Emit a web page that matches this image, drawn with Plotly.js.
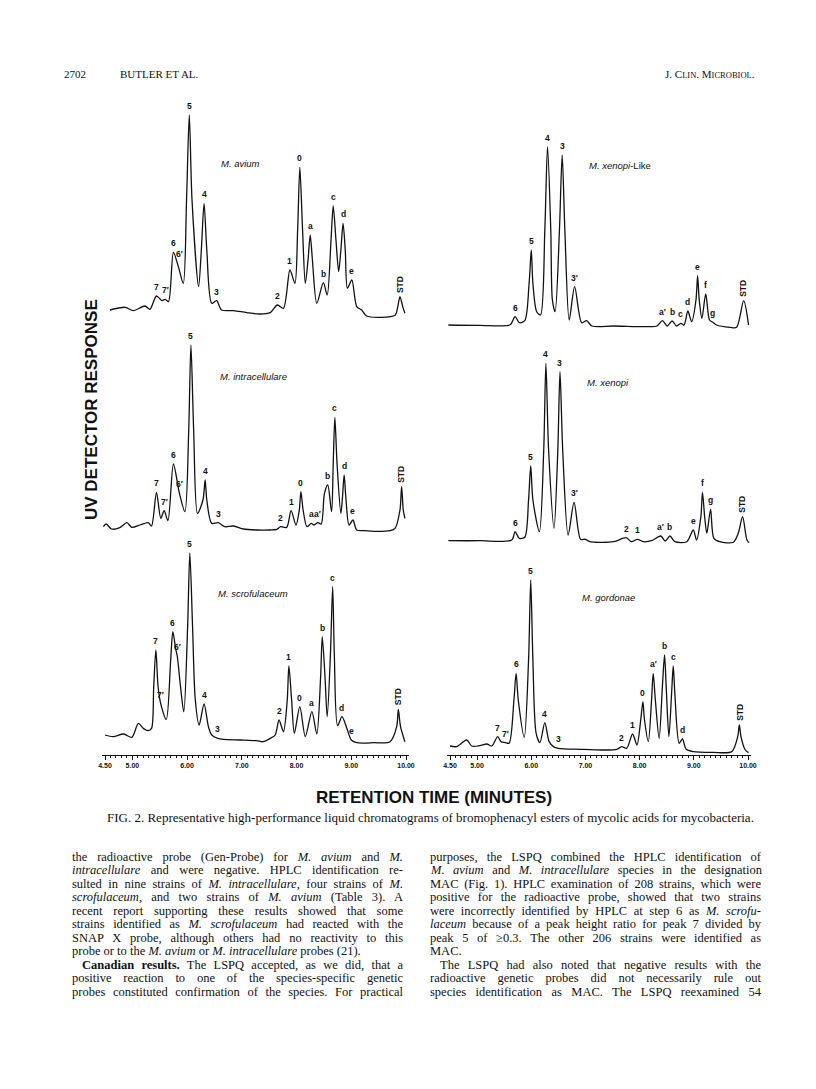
<!DOCTYPE html>
<html>
<head>
<meta charset="utf-8">
<script src="https://cdn.plot.ly/plotly-3.0.1.min.js"></script>
<style>
  html, body { margin: 0; padding: 0; background: #fff; }
  #page { width: 816px; height: 1089px; }
</style>
</head>
<body>
<div id="page"></div>
<script>
// Retention time (min) and detector response (arbitrary units)
const aviumTime = [4.59,4.87,5.02,5.23,5.32,5.44,5.54,5.60,5.66,5.75,5.84,5.93,5.99,6.04,6.09,6.21,6.26,6.31,6.36,6.45,6.54,6.63,6.85,7.09,7.33,7.52,7.65,7.76,7.88,7.97,8.02,8.06,8.11,8.16,8.21,8.25,8.29,8.37,8.49,8.56,8.63,8.67,8.72,8.77,8.81,8.85,8.89,8.93,9.01,9.10,9.19,9.28,9.53,9.80,9.85,9.89,9.94,9.98];
const aviumResp = [13.3,16,12.7,17.3,14,27.3,22.7,24,21.7,71,56.7,40,123.3,208.3,123.3,36.7,73.3,120,73.3,20,22.7,13.3,12.7,10.7,9.3,10.7,18.3,15,53.3,40,93.3,156,93.3,40,63.3,88.3,63.3,20,40.7,28.3,83.3,117.3,83.3,51.7,73.3,100,73.3,35,43.3,16.7,13.3,7.3,6,8,16.7,26.7,16.7,10];
const aviumPeaks = ['7','7′','6','6′','5','4','3','2','1','0','a','b','c','d','e','STD'];
const aviumPeakTime = [5.44,5.61,5.75,5.87,6.04,6.31,6.54,7.65,7.88,8.06,8.25,8.49,8.67,8.85,9.01,9.89];
const aviumPeakResp = [27.3,24,71,60,208.3,120,22.7,18.3,53.3,156,88.3,40.7,117.3,100,43.3,26.7];

const intraTime = [4.47,4.52,4.62,4.77,4.90,4.99,5.14,5.29,5.35,5.44,5.52,5.58,5.65,5.75,5.86,5.96,6.03,6.07,6.12,6.19,6.29,6.33,6.36,6.45,6.57,6.69,6.85,7.03,7.27,7.52,7.64,7.71,7.82,7.90,7.99,8.05,8.08,8.12,8.19,8.27,8.32,8.39,8.45,8.51,8.57,8.64,8.67,8.70,8.74,8.81,8.84,8.87,8.90,8.96,9.03,9.10,9.22,9.47,9.71,9.80,9.89,9.92,9.95,9.98];
const intraResp = [10,12.7,7.7,9,14,9.3,11.7,14,10.7,44.3,18.3,26,16,72.7,43.3,25,106.7,191.7,106.7,23.3,36.7,56.7,36.7,13.3,14,10,10.7,7.7,6.7,6.7,7.3,10,9.3,26,11.7,26.7,45,26.7,10,13.3,11.7,14,12.7,43.3,51.7,25,73.3,119.3,73.3,23.3,40,61.7,40,11.7,16.7,6.7,6,5.3,6,8.3,26.7,50,26.7,18.3];
const intraPeaks = ['7','7′','6','6′','5','4','3','2','1','0','a','a′','b','c','d','e','STD'];
const intraPeakTime = [5.44,5.58,5.75,5.86,6.07,6.33,6.57,7.71,7.90,8.08,8.27,8.39,8.57,8.70,8.87,9.03,9.92];
const intraPeakResp = [44.3,26,72.7,43.3,191.7,56.7,14,10,26,45,13.3,14,51.7,119.3,61.7,16.7,50];

const scrofTime = [4.50,4.65,4.84,4.99,5.11,5.20,5.29,5.35,5.39,5.43,5.47,5.52,5.62,5.70,5.74,5.79,5.82,5.88,5.94,6.01,6.05,6.10,6.15,6.22,6.31,6.39,6.45,6.56,6.66,6.97,7.27,7.39,7.52,7.61,7.68,7.76,7.83,7.86,7.91,7.96,8.06,8.16,8.28,8.37,8.44,8.47,8.52,8.56,8.62,8.66,8.69,8.75,8.83,8.92,9.00,9.10,9.41,9.71,9.83,9.86,9.90,9.98];
const scrofResp = [11.7,10,12.7,9.3,23.3,18.3,16,18.3,60,96.7,60,42.7,27.3,86.7,115,98.3,90.7,60,35,120,193.7,120,46.7,21.7,42.7,20,11.7,8.3,7.3,6.7,6,5,8.3,11.7,26.7,15,46.7,80.7,46.7,13.3,40,10,35,12.7,70,110,70,30,93.3,160,93.3,21,30,18.3,6.7,4,4,5,20,37.3,20,5];
const scrofPeaks = ['7','7′','6','6′','5','4','3','2','1','0','a','b','c','d','e','STD'];
const scrofPeakTime = [5.43,5.52,5.74,5.82,6.05,6.31,6.56,7.68,7.86,8.06,8.28,8.47,8.66,8.83,9.00,9.86];
const scrofPeakResp = [96.7,42.7,115,90.7,193.7,42.7,8.3,26.7,80.7,40,35,110,160,30,6.7,37.3];

const xlikeTime = [4.47,5.05,5.61,5.70,5.78,5.88,5.96,6.00,6.03,6.10,6.17,6.25,6.30,6.36,6.39,6.44,6.52,6.57,6.62,6.70,6.80,6.93,7.02,7.12,7.52,8.13,8.32,8.42,8.51,8.60,8.68,8.76,8.82,8.89,8.96,9.04,9.07,9.10,9.15,9.22,9.29,9.35,9.42,9.67,9.79,9.92,10.01];
const xlikeResp = [5,4.7,5.3,13.3,7.3,9.3,46.7,80,46.7,18.3,15,100,183.3,100,30,18.3,100,175,100,10,43.3,7.3,9.3,4,4,3.3,4,9.3,4,9,4,6.7,5,19,8.3,30,54.3,30,11.7,36,10,7.7,5,2.7,2.7,29.3,5];
const xlikePeaks = ['6','5','4','3','3′','a′','b','c','d','e','f','g','STD'];
const xlikePeakTime = [5.70,6.00,6.30,6.57,6.80,8.42,8.60,8.76,8.89,9.07,9.22,9.35,9.92];
const xlikePeakResp = [13.3,80,183.3,175,43.3,9.3,9,6.7,19,54.3,36,7.7,29.3];

const xenopiTime = [4.47,5.05,5.64,5.70,5.78,5.88,5.95,5.99,6.03,6.15,6.23,6.27,6.32,6.42,6.49,6.53,6.58,6.68,6.79,6.91,7.00,7.08,7.52,7.75,7.85,7.96,8.07,8.22,8.39,8.47,8.56,8.65,8.87,8.99,9.05,9.13,9.16,9.20,9.24,9.31,9.37,9.48,9.73,9.82,9.90,9.98,10.02];
const xenopiResp = [4.3,4.3,5,13.3,6.7,7.7,45,79,45,13.3,95,181.7,95,16.7,95,173.3,95,10,42.7,5.7,5.7,3.3,3.3,7.3,3.3,5.7,3.3,4.3,9,4,9,3.3,3.3,15,5,28.3,52.7,28.3,11.7,35.7,6.7,3.3,2.7,11.7,28.3,5,2.3];
const xenopiPeaks = ['6','5','4','3','3′','2','1','a′','b','e','f','g','STD'];
const xenopiPeakTime = [5.70,5.99,6.27,6.53,6.79,7.75,7.96,8.39,8.56,8.99,9.16,9.31,9.90];
const xenopiPeakResp = [13.3,79,181.7,173.3,42.7,7.3,5.7,9,9,15,52.7,35.7,28.3];

const gordTime = [4.50,4.62,4.81,4.90,5.05,5.18,5.27,5.38,5.44,5.52,5.59,5.68,5.72,5.76,5.87,5.95,5.99,6.03,6.09,6.16,6.25,6.33,6.41,6.50,6.90,7.33,7.58,7.67,7.76,7.87,7.95,8.02,8.06,8.09,8.16,8.22,8.25,8.29,8.36,8.42,8.46,8.49,8.54,8.59,8.62,8.65,8.73,8.79,8.86,8.99,9.36,9.70,9.81,9.84,9.87,9.95,10.01];
const gordResp = [7.3,6.7,13.3,7.3,7.7,9.3,7.3,16.7,11.7,10.7,10,53.3,80,53.3,16,93.3,173.3,93.3,20,10.7,30.7,11.7,6.7,5,4,3.3,4,6.7,5,19.3,8.3,33.3,51.7,33.3,11.7,53.3,80,53.3,15,66.7,98.3,66.7,16.7,60,87.3,60,10,14.3,4,1.7,1,1.7,16.7,28.3,16.7,3.3,0.7];
const gordPeaks = ['7','7′','6','5','4','3','2','1','0','a′','b','c','d','STD'];
const gordPeakTime = [5.38,5.52,5.72,5.99,6.25,6.50,7.67,7.87,8.06,8.25,8.46,8.62,8.79,9.84];
const gordPeakResp = [16.7,10.7,80,173.3,30.7,5,6.7,19.3,51.7,80,98.3,87.3,14.3,28.3];

const tickVals = [4.5, 5, 6, 7, 8, 9, 10];
const tickText = ['4.50', '5.00', '6.00', '7.00', '8.00', '9.00', '10.00'];

const leftLines = [
  'the radioactive probe (Gen-Probe) for <i>M. avium</i> and <i>M.</i>',
  '<i>intracellulare</i> and were negative. HPLC identification re-',
  'sulted in nine strains of <i>M. intracellulare</i>, four strains of <i>M.</i>',
  '<i>scrofulaceum</i>, and two strains of <i>M. avium</i> (Table 3). A',
  'recent report supporting these results showed that some',
  'strains identified as <i>M. scrofulaceum</i> had reacted with the',
  'SNAP X probe, although others had no reactivity to this',
  'probe or to the <i>M. avium</i> or <i>M. intracellulare</i> probes (21).',
  '<b>Canadian results.</b> The LSPQ accepted, as we did, that a',
  'positive reaction to one of the species-specific genetic',
  'probes constituted confirmation of the species. For practical'
];
const rightLines = [
  'purposes, the LSPQ combined the HPLC identification of',
  '<i>M. avium</i> and <i>M. intracellulare</i> species in the designation',
  'MAC (Fig. 1). HPLC examination of 208 strains, which were',
  'positive for the radioactive probe, showed that two strains',
  'were incorrectly identified by HPLC at step 6 as <i>M. scrofu-</i>',
  '<i>laceum</i> because of a peak height ratio for peak 7 divided by',
  'peak 5 of ≥0.3. The other 206 strains were identified as',
  'MAC.',
  'The LSPQ had also noted that negative results with the',
  'radioactive genetic probes did not necessarily rule out',
  'species identification as MAC. The LSPQ reexamined 54'
];

const W = 816, H = 1089;
const SANS = 'Liberation Sans, Arial, sans-serif';
const SERIF = 'Liberation Serif, Times New Roman, serif';
const px = x => x / W;
const py = y => 1 - y / H;

// pixel position of 4.50 and 10.00 on each column
const cols = [{p45: 105, p10: 406}, {p45: 450, p10: 748}];

const panels = [
  {name: '<i>M. avium</i>', col: 0, base: 323.3, bottom: 323.3, top: 100, t: aviumTime, r: aviumResp, pk: aviumPeaks, pt: aviumPeakTime, pr: aviumPeakResp, nt: 6.97, nr: 160},
  {name: '<i>M. intracellulare</i>', col: 0, base: 536.7, bottom: 536.7, top: 320, t: intraTime, r: intraResp, pk: intraPeaks, pt: intraPeakTime, pr: intraPeakResp, nt: 7.21, nr: 160},
  {name: '<i>M. scrofulaceum</i>', col: 0, base: 746.7, bottom: 755, top: 540, t: scrofTime, r: scrofResp, pk: scrofPeaks, pt: scrofPeakTime, pr: scrofPeakResp, nt: 7.21, nr: 153, axis: true},
  {name: '<i>M. xenopi</i>-Like', col: 1, base: 330, bottom: 330, top: 130, t: xlikeTime, r: xlikeResp, pk: xlikePeaks, pt: xlikePeakTime, pr: xlikePeakResp, nt: 7.64, nr: 165},
  {name: '<i>M. xenopi</i>', col: 1, base: 545, bottom: 545, top: 345, t: xenopiTime, r: xenopiResp, pk: xenopiPeaks, pt: xenopiPeakTime, pr: xenopiPeakResp, nt: 7.42, nr: 163},
  {name: '<i>M. gordonae</i>', col: 1, base: 753.3, bottom: 755, top: 560, t: gordTime, r: gordResp, pk: gordPeaks, pt: gordPeakTime, pr: gordPeakResp, nt: 7.42, nr: 156, axis: true}
];

const traces = [];
const annotations = [];
const layout = {
  width: W, height: H,
  margin: {l: 0, r: 0, t: 0, b: 0},
  paper_bgcolor: '#fff', plot_bgcolor: 'rgba(0,0,0,0)',
  showlegend: false
};

panels.forEach((p, i) => {
  const k = i + 1;
  const xa = 'xaxis' + (k > 1 ? k : ''), ya = 'yaxis' + (k > 1 ? k : '');
  const xr = 'x' + (k > 1 ? k : ''), yr = 'y' + (k > 1 ? k : '');
  const c = cols[p.col];
  const s = (c.p10 - c.p45) / 5.5;
  layout[xa] = {
    domain: [px(c.p45 - 0.05 * s), px(c.p10 + 0.05 * s)],
    range: [4.45, 10.05], anchor: yr,
    showgrid: false, zeroline: false,
    showline: !!p.axis, linecolor: '#111', linewidth: 1,
    showticklabels: !!p.axis,
    ticks: p.axis ? 'outside' : '', ticklen: 4, tickcolor: '#111',
    tickvals: tickVals, ticktext: tickText,
    tickfont: {family: SANS, size: 7, color: '#111', weight: 'bold'},
    minor: p.axis ? {tick0: 4.5, dtick: 0.1, ticks: 'outside', ticklen: 2, tickcolor: '#111'} : undefined
  };
  layout[ya] = {
    domain: [py(p.bottom), py(p.top)],
    range: [-(p.bottom - p.base), p.base - p.top], anchor: xr,
    visible: false
  };
  traces.push({
    x: p.t, y: p.r, xaxis: xr, yaxis: yr,
    type: 'scatter', mode: 'lines',
    line: {color: '#111', width: 1.3, shape: 'spline', smoothing: 0.8},
    hoverinfo: 'skip'
  });
  p.pk.forEach((lab, j) => {
    const std = lab === 'STD';
    annotations.push({
      xref: xr, yref: yr, x: p.pt[j], y: p.pr[j],
      text: lab, showarrow: false,
      textangle: std ? -90 : 0,
      xanchor: 'center', yanchor: 'bottom', yshift: 2,
      font: {family: SANS, size: 8.5, color: '#111', weight: 'bold'}
    });
  });
  annotations.push({
    xref: xr, yref: yr, x: p.nt, y: p.nr, text: p.name, showarrow: false,
    font: {family: SANS, size: 9.5, color: '#111'}
  });
});

// page furniture
const pageText = (x, y, text, size, family, anchor, extra) => Object.assign({
  xref: 'paper', yref: 'paper', x: px(x), y: py(y), text: text, showarrow: false,
  xanchor: anchor || 'left', yanchor: 'middle', align: anchor || 'left',
  font: {family: family, size: size, color: '#111'}
}, extra || {});

annotations.push(pageText(62, 74, '2702', 11, SERIF));
annotations.push(pageText(118, 74, 'BUTLER ET AL.', 11, SERIF));
annotations.push(pageText(757, 74, 'J. C<span style="font-size:8.5px">LIN</span>. M<span style="font-size:8.5px">ICROBIOL</span>.', 11, SERIF, 'right'));
annotations.push(pageText(434, 797, 'RETENTION TIME (MINUTES)', 17, SANS, 'center', {font: {family: SANS, size: 17, color: '#111', weight: 'bold'}}));
annotations.push(pageText(91, 410, 'UV DETECTOR RESPONSE', 17, SANS, 'center', {textangle: -90, font: {family: SANS, size: 17, color: '#111', weight: 'bold'}}));
annotations.push(pageText(430, 817, 'FIG. 2. Representative high-performance liquid chromatograms of bromophenacyl esters of mycolic acids for mycobacteria.', 13, SERIF, 'center'));

// body text, one annotation per line; widths used to justify afterwards
const justifyWidth = {};
[[leftLines, 70, 401], [rightLines, 428, 759]].forEach(([lines, x0, x1]) => {
  lines.forEach((line, i) => {
    const indent = i === 8 ? 10 : 0;
    justifyWidth[annotations.length] = (i === 7) ? 0 : (x1 - x0 - indent);
    annotations.push(pageText(x0 + indent, 856.7 + 13.5 * i, line, 12.5, SERIF, 'left'));
  });
});

layout.annotations = annotations;

// stretch word spacing so the body columns come out justified
function justify(gd) {
  gd.querySelectorAll('g.annotation').forEach(g => {
    const idx = +g.getAttribute('data-index');
    const w = justifyWidth[idx];
    if (!w) return;
    const txt = g.querySelector('text.annotation-text');
    if (!txt) return;
    const spaces = txt.textContent.split(' ').length - 1;
    const len = txt.getComputedTextLength();
    if (spaces > 0) txt.style.wordSpacing = ((w - len) / spaces) + 'px';
  });
}

Plotly.newPlot('page', traces, layout, {displayModeBar: false, staticPlot: true})
  .then(gd => justify(gd));
</script>
</body>
</html>
